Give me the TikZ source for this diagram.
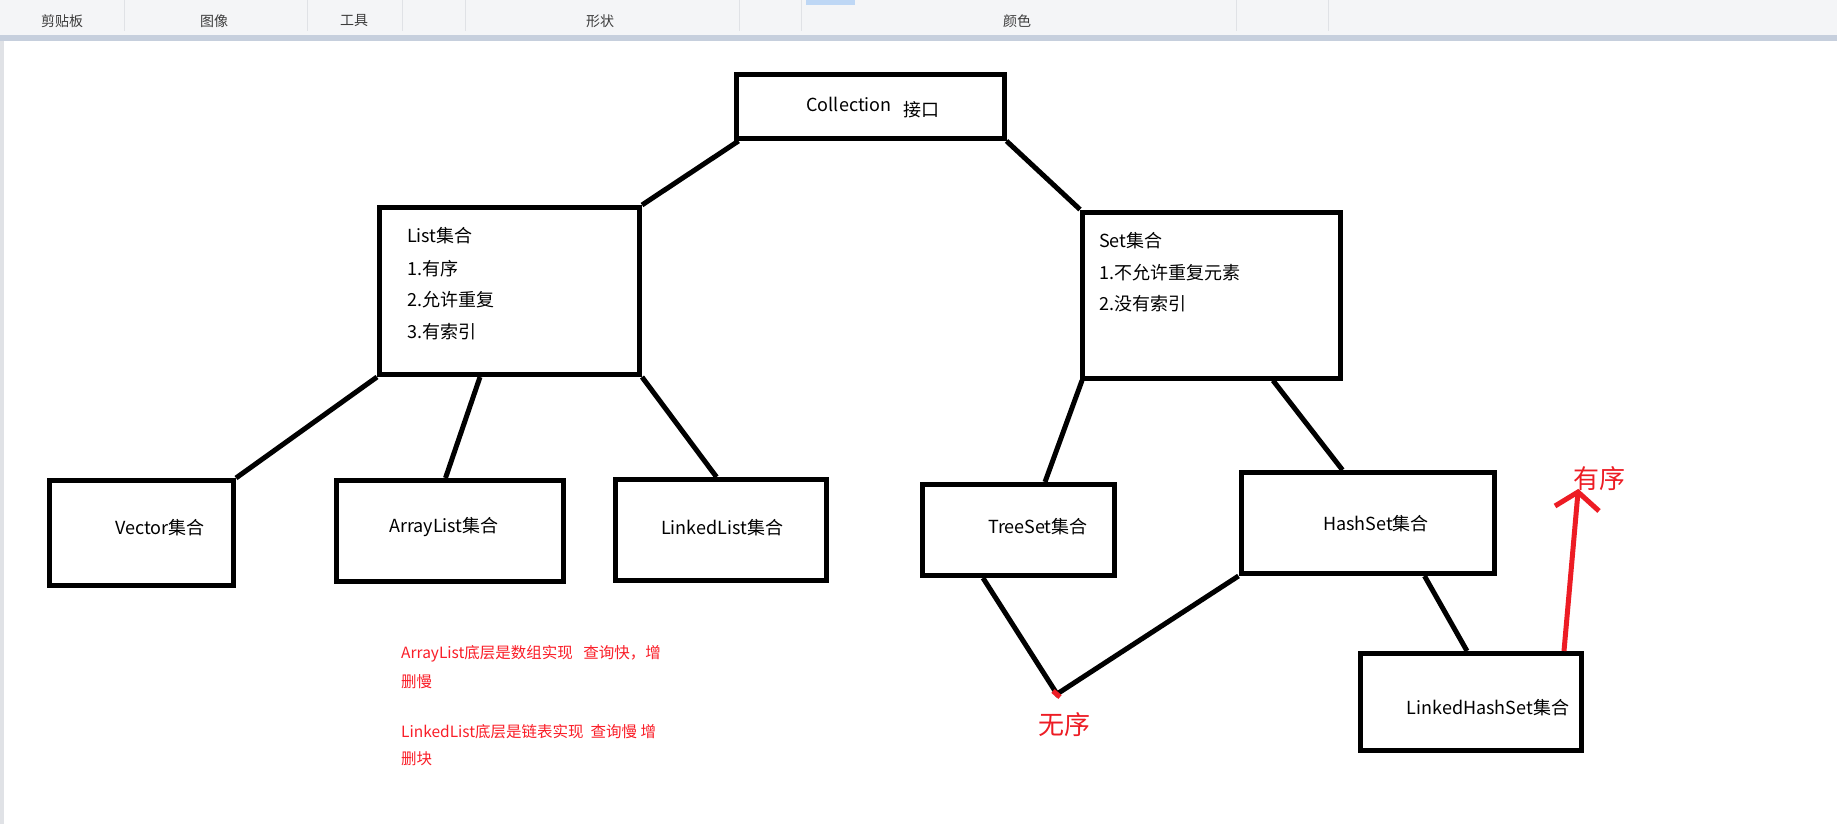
\documentclass[tikz,border=0pt]{standalone}
\usepackage{fontspec}
\setmainfont{Noto Sans CJK SC}
\usetikzlibrary{calc}
\definecolor{redink}{RGB}{237,28,36}
\definecolor{redtext}{RGB}{250,30,40}
\definecolor{tbbg}{RGB}{244,245,247}
\definecolor{tbstrip}{RGB}{198,207,221}
\definecolor{tbsep}{RGB}{224,226,230}
\definecolor{tbtext}{RGB}{60,60,60}
\definecolor{blueknob}{RGB}{190,215,245}
\begin{document}
\begin{tikzpicture}[x=1pt,y=-1pt,
  box/.style={draw=black, line width=5pt, inner sep=0pt},
  conn/.style={draw=black, line width=5pt},
  redline/.style={draw=redink, line width=5pt},
  txt/.style={inner sep=0pt, font=\fontsize{18}{22}\selectfont, text=black},
  redtxt/.style={inner sep=0pt, anchor=west, font=\fontsize{15.5}{19}\selectfont, text=redtext},
  bigred/.style={inner sep=0pt, font=\fontsize{26}{30}\selectfont, text=redink},
  tbtxt/.style={inner sep=0pt, font=\fontsize{14}{17}\selectfont, text=tbtext},
  tbline/.style={draw=tbsep, line width=1pt}]
\useasboundingbox (0,0) rectangle (1837,824);
\fill[white] (0,0) rectangle (1837,824);
% toolbar
\fill[tbbg] (0,0) rectangle (1837,35);
\fill[tbstrip] (0,35) rectangle (1837,41);
\fill[tbsep] (0,41) rectangle (4,824);
\fill[blueknob] (806,0) rectangle (855,5);
\draw[tbline] (124,0) -- (124,31);
\draw[tbline] (307,0) -- (307,31);
\draw[tbline] (402,0) -- (402,31);
\draw[tbline] (465,0) -- (465,31);
\draw[tbline] (739,0) -- (739,31);
\draw[tbline] (801,0) -- (801,31);
\draw[tbline] (1236,0) -- (1236,31);
\draw[tbline] (1328,0) -- (1328,31);
\node[tbtxt] (tb1) at (62,21) {剪贴板};
\node[tbtxt] (tb2) at (214,21) {图像};
\node[tbtxt] (tb3) at (354,21) {工具};
\node[tbtxt] (tb4) at (600,21) {形状};
\node[tbtxt] (tb5) at (1017,21) {颜色};
% boxes
\node[box, minimum width=268pt, minimum height=64pt] (coll) at (870,106.5) {};
\node[box, minimum width=260pt, minimum height=167pt] (list) at (509.5,291) {};
\node[box, minimum width=258pt, minimum height=166pt] (set) at (1211.5,295) {};
\node[box, minimum width=184pt, minimum height=105pt] (vec) at (141.5,533) {};
\node[box, minimum width=227pt, minimum height=101pt] (arr) at (449.5,531) {};
\node[box, minimum width=211pt, minimum height=101pt] (lnk) at (720.5,530) {};
\node[box, minimum width=192pt, minimum height=91pt] (tree) at (1018,530) {};
\node[box, minimum width=253pt, minimum height=101pt] (hash) at (1367.5,523) {};
\node[box, minimum width=221pt, minimum height=97pt] (lhs) at (1471,702) {};
% texts
\node[txt] (colltxt) at (849,104) {Collection};
\node[txt] (colltxt2) at (921,110) {接口};
\node[txt, anchor=west] (l1) at (407,236) {List集合};
\node[txt, anchor=west] (l2) at (407,268.5) {1.有序};
\node[txt, anchor=west] (l3) at (407,300) {2.允许重复};
\node[txt, anchor=west] (l4) at (407,331.5) {3.有索引};
\node[txt, anchor=west] (s1) at (1099,240.5) {Set集合};
\node[txt, anchor=west] (s2) at (1099,272.5) {1.不允许重复元素};
\node[txt, anchor=west] (s3) at (1099,304) {2.没有索引};
\node[txt] (vect) at (160,528) {Vector集合};
\node[txt] (arrt) at (444,527) {ArrayList集合};
\node[txt] (lnkt) at (722,528) {LinkedList集合};
\node[txt] (treet) at (1038,527) {TreeSet集合};
\node[txt] (hasht) at (1376,524) {HashSet集合};
\node[txt] (lhst) at (1488,708) {LinkedHashSet集合};
% connectors
\draw[conn] ($(coll.south west)+(5,0)$) -- (list.north east);
\draw[conn] (coll.south east) -- (set.north west);
\draw[conn] (list.south west) -- (vec.north east);
\draw[conn] ($(list.south west)+(103,0)$) -- ($(arr.north)+(-4,0)$);
\draw[conn] (list.south east) -- ($(lnk.north)+(-4,0)$);
\draw[conn] ($(set.south west)+(2,0)$) -- ($(tree.north)+(27,0)$);
\draw[conn] ($(set.south west)+(193,0)$) -- ($(hash.north)+(-25,0)$);
\draw[conn] ($(hash.south)+(57,0)$) -- ($(lhs.north)+(-4,0)$);
\coordinate (v) at (1057,694);
\draw[conn] ($(tree.south)+(-35,0)$) -- (v) -- (hash.south west);
\draw[redline, line width=5pt] ($(v)+(-4,-3)$) -- ($(v)+(3,3)$);
\node[bigred] (wuxu) at (1064,725) {无序};
% red arrow
\coordinate (tip) at (1578,492);
\coordinate (hl) at (1555,506);
\coordinate (hr) at (1599,511);
\draw[redline] ($(lhs.north)+(93,0)$) -- (tip);
\draw[redline] (hl) -- (tip) -- (hr);
\node[bigred] (youxu) at (1599,479) {有序};
% red notes
\node[redtxt] (n1) at (401,654) {ArrayList底层是数组实现\ \ \ 查询快，增};
\node[redtxt] (n2) at (401,682) {删慢};
\node[redtxt] (n3) at (401,732) {LinkedList底层是链表实现\ \ 查询慢 增};
\node[redtxt] (n4) at (401,759) {删块};
\end{tikzpicture}
\end{document}
